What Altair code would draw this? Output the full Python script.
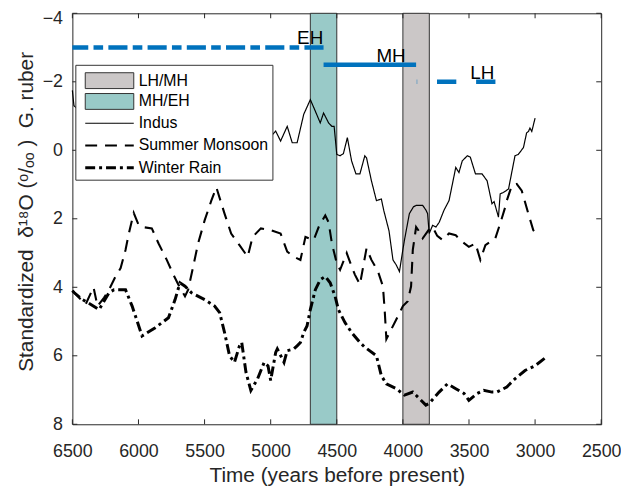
import altair as alt
import pandas as pd

W, H = 534, 415
FONT = "Liberation Sans"
NB = "\u00a0"

# ---------------- data ----------------
xticks = [6500, 6000, 5500, 5000, 4500, 4000, 3500, 3000, 2500]
yticks = [-4, -2, 0, 2, 4, 6, 8]

band_names = ["LH/MH", "MH/EH"]
band_colors = ["#cbc7c7", "#99cac8"]
band_start = [4000, 4700]
band_end = [3800, 4500]

line_names = ["Indus", "Summer Monsoon", "Winter Rain"]
line_widths = [1.2, 3, 3]
line_dashes = [[1, 0], [12, 8], [10, 4, 3, 4]]

indus_t = [6500, 6488, 6400, 6200, 6000, 5800, 5600, 5400, 5200, 5000, 4962, 4925, 4875, 4837, 4800,
           4750, 4700, 4662, 4625, 4600, 4562, 4537, 4520, 4500, 4475, 4450, 4420, 4388, 4355,
           4325, 4288, 4275, 4238, 4200, 4163, 4145, 4105, 4075, 4050, 4026, 4000, 3988, 3951,
           3920, 3900, 3850, 3825, 3813, 3801, 3775, 3750, 3725, 3689, 3651, 3600, 3576, 3551,
           3513, 3490, 3451, 3401, 3363, 3326, 3310, 3277, 3264, 3239, 3201, 3152, 3127, 3088,
           3064, 3050, 3039, 3025, 3000]
indus_v = [-1.75, -1.3, -1.0, -0.6, -1.2, -0.8, -1.1, -0.5, -0.9, -0.4, -0.56, -0.27, -0.70, -0.22, -0.22,
           -1.05, -1.48, -1.14, -0.80, -1.09, -0.80, -0.70, -0.70, 0.12, 0.16, 0.10, -0.37, 0.31, 0.69,
           0.69, 0.16, 0.22, 0.89, 1.47, 1.42, 1.75, 2.35, 3.2, 3.35, 3.54, 2.9, 2.62, 1.85,
           1.65, 1.61, 1.61, 1.75, 1.85, 2.43, 2.19, 2.24, 2.1, 1.75, 1.47, 0.50, 0.65, 0.31,
           0.16, 0.2, 0.69, 0.69, 0.89, 1.56, 1.5, 1.95, 1.27, 1.23, 1.13, 0.16, 0.12, -0.08,
           -0.51, -0.55, -0.65, -0.55, -0.94]

summer_t = [6500, 6450, 6400, 6340, 6310, 6260, 6223, 6173, 6135, 6098, 6073, 6036, 5998, 5973,
            5899, 5848, 5786, 5736, 5699, 5648, 5624, 5586, 5549, 5499, 5449, 5411, 5349, 5299,
            5236, 5174, 5137, 5074, 5000, 4925, 4875, 4825, 4775, 4737, 4675, 4637, 4587, 4562,
            4537, 4500, 4475, 4425, 4388, 4363, 4325, 4300, 4275, 4238, 4188, 4151, 4138, 4125,
            4050, 4000, 3963, 3938, 3925, 3900, 3875, 3850, 3800, 3775, 3740, 3700, 3651, 3600,
            3551, 3501, 3451, 3414, 3376, 3301, 3264, 3226, 3214, 3176, 3139, 3101, 3051, 3014, 3000]
summer_v = [4.1, 4.3, 4.5, 4.0, 4.55, 4.3, 4.07, 3.68, 3.44, 2.91, 2.43, 1.83, 2.19, 2.24,
            2.28, 2.72, 3.2, 3.63, 3.92, 4.26, 4.07, 3.39, 2.72, 2.04, 1.47, 1.08, 1.85, 2.43,
            2.77, 3.11, 2.53, 2.28, 2.33, 2.43, 2.96, 3.11, 3.2, 2.53, 2.62, 2.24, 1.9, 2.1,
            2.72, 3.3, 3.49, 3.0, 3.39, 3.63, 3.92, 3.39, 2.86, 3.2, 3.54, 3.97, 4.65, 5.51,
            4.94, 4.55, 4.41, 3.97, 2.91, 2.24, 2.38, 2.57, 2.3, 2.24, 2.5, 2.62, 2.43, 2.48,
            2.67, 2.82, 2.72, 3.2, 2.77, 2.57, 2.14, 1.66, 1.47, 1.03, 0.98, 1.18, 1.85, 2.33, 2.4]

winter_t = [6500, 6485, 6423, 6360, 6298, 6223, 6185, 6098, 6048, 5973, 5873, 5773, 5723, 5686,
            5648, 5599, 5499, 5424, 5386, 5349, 5311, 5274, 5236, 5219, 5187, 5150, 5099, 5049,
            5020, 5000, 4962, 4950, 4899, 4875, 4825, 4800, 4775, 4750, 4725, 4700, 4662, 4625,
            4587, 4550, 4513, 4488, 4438, 4388, 4325, 4288, 4200, 4163, 4125, 4050, 3988, 3925,
            3875, 3826, 3801, 3726, 3663, 3600, 3538, 3501, 3438, 3389, 3326, 3289, 3214, 3152,
            3076, 3000, 2926]
winter_v = [4.1, 4.16, 4.36, 4.5, 4.65, 4.16, 4.07, 4.07, 4.55, 5.42, 5.18, 4.89, 4.36, 3.87,
            3.97, 4.16, 4.36, 4.55, 4.74, 5.32, 6.0, 6.19, 5.71, 5.61, 6.48, 7.01, 6.67, 6.19,
            6.3, 6.72, 5.90, 5.80, 6.19, 5.85, 5.80, 5.71, 5.61, 5.32, 5.13, 4.65, 4.07, 3.78,
            3.68, 3.87, 4.26, 4.65, 5.03, 5.32, 5.61, 5.75, 6.0, 6.58, 6.82, 6.96, 7.15, 7.06,
            7.25, 7.44, 7.39, 7.06, 6.82, 6.96, 7.1, 7.30, 7.10, 7.01, 7.06, 7.06, 6.91, 6.67,
            6.43, 6.29, 6.07]

phase_names = ["EH", "MH", "LH"]
phase_from = [4600, 3900, 3300]
phase_to = [6500, 4600, 3895]
phase_level = [-3.0, -2.5, -2.0]
phase_label_t = [4800, 4200, 3490]
phase_label_v = [-3.1, -2.58, -2.08]

y_title = "Standardized" + NB * 2 + "δ¹⁸O (ᵒ/ₒₒ" + NB + ")" + NB + " G. ruber"

# ---------------- scales / axes ----------------
x_scale = alt.Scale(domain=[2500, 6500], reverse=True, nice=False, zero=False)
y_scale = alt.Scale(domain=[-4, 8], reverse=True, nice=False, zero=False)

x_axis = alt.Axis(values=xticks, format="d", title="Time (years before present)",
                  labelFlush=False, labelPadding=19, titleY=58, titleBaseline="alphabetic",
                  titleFontSize=21)
y_axis = alt.Axis(values=yticks, format="d", title=y_title,
                  labelFlush=False, labelPadding=10,
                  labelOffset={"condition": {"test": "datum.value === -4", "value": 5}, "value": 0},
                  titleX=-40, titleY=200, titleBaseline="alphabetic",
                  titleAngle=270, titleFontSize=21)

common_leg = dict(orient="none", legendX=3, legendY=52, direction="vertical",
                  labelFont=FONT, labelFontSize=16, labelColor="black", labelLimit=400,
                  labelOffset=21.5, symbolSize=100)

legend_lines = alt.Legend(
    title=NB, titleFontSize=30, titlePadding=17, titleFont=FONT,
    fillColor="white", strokeColor="#333333", zindex=1, padding=4,
    symbolOffset=22.5, rowPadding=6.5,
    symbolType="M-4.9,0H4.9", symbolStrokeColor="black", **common_leg)
legend_bands = alt.Legend(
    title=None, zindex=2, padding=8, symbolOffset=18.5, rowPadding=1,
    symbolType="M-4.9,-1.6H4.9V1.6H-4.9Z", symbolStrokeColor="#333333",
    symbolStrokeWidth=1, **common_leg)


def X(field):
    return alt.X(field, scale=x_scale, axis=x_axis)


def Y(field):
    return alt.Y(field, scale=y_scale, axis=y_axis)


band_df = pd.DataFrame({"key": band_names, "x1": band_start, "x2": band_end})
bands = alt.Chart(band_df).mark_rect(stroke="#333333", strokeWidth=1).encode(
    x=X("x1:Q"), x2="x2:Q",
    y=alt.Y(datum=-4, scale=y_scale, axis=y_axis), y2=alt.Y2(datum=8),
    fill=alt.Fill("key:N", scale=alt.Scale(domain=band_names, range=band_colors),
                  legend=legend_bands),
)

dash_enc = alt.StrokeDash("key:N", scale=alt.Scale(domain=line_names, range=line_dashes),
                          legend=legend_lines)
width_enc = alt.StrokeWidth("key:N", scale=alt.Scale(domain=line_names, range=line_widths),
                            legend=legend_lines)


def series(t, v, key):
    return pd.DataFrame({"t": t, "v": v, "key": key})


line_df = pd.concat([series(indus_t, indus_v, "Indus"),
                     series(summer_t, summer_v, "Summer Monsoon"),
                     series(winter_t, winter_v, "Winter Rain")])
lines = alt.Chart(line_df).mark_line(color="black").encode(
    x=X("t:Q"), y=Y("v:Q"), detail="key:N", strokeDash=dash_enc, strokeWidth=width_enc)

phase_df = pd.DataFrame({"name": phase_names, "x1": phase_from, "x2": phase_to,
                         "lev": phase_level, "lt": phase_label_t, "lv": phase_label_v})
phase_dash = {"EH": [19.3, 5.3, 9.7, 5.3], "MH": [1, 0], "LH": [19.5, 20]}
phase_layers = []
for nm in phase_names:
    phase_layers.append(
        alt.Chart(phase_df).transform_filter(alt.datum.name == nm).mark_rule(
            color="#0072BD", strokeWidth=4.5, strokeDash=phase_dash[nm]).encode(
            x=X("x1:Q"), x2="x2:Q", y=Y("lev:Q"))
    )
phase_text = alt.Chart(phase_df).mark_text(
    align="left", baseline="alphabetic", font=FONT, fontSize=19, color="black").encode(
    x=X("lt:Q"), y=Y("lv:Q"), text="name:N")

tick_x_df = pd.DataFrame({"t": xticks})
tick_y_df = pd.DataFrame({"v": yticks})
TK = 5
tcol = "#262626"
ticks = [
    alt.Chart(tick_x_df).mark_rule(color=tcol, strokeWidth=1).encode(
        x=X("t:Q"), y=alt.value(0), y2=alt.value(TK)),
    alt.Chart(tick_x_df).mark_rule(color=tcol, strokeWidth=1).encode(
        x=X("t:Q"), y=alt.value(H), y2=alt.value(H - TK)),
    alt.Chart(tick_y_df).mark_rule(color=tcol, strokeWidth=1).encode(
        y=Y("v:Q"), x=alt.value(0), x2=alt.value(TK)),
    alt.Chart(tick_y_df).mark_rule(color=tcol, strokeWidth=1).encode(
        y=Y("v:Q"), x=alt.value(W), x2=alt.value(W - TK)),
]

chart = alt.layer(bands, lines, *phase_layers, phase_text, *ticks).properties(
    width=W, height=H,
    autosize=alt.AutoSizeParams(type="none"),
    padding={"left": 65, "top": 3, "right": 20, "bottom": 64},
).configure_view(
    stroke="#262626", strokeWidth=1
).configure_axis(
    domain=False, ticks=False, grid=False,
    labelFont=FONT, labelFontSize=18, labelColor="#262626",
    titleFont=FONT, titleColor="#262626", titleFontWeight="normal",
)

chart.save("out.html", embed_options={"renderer": "svg", "actions": False})
